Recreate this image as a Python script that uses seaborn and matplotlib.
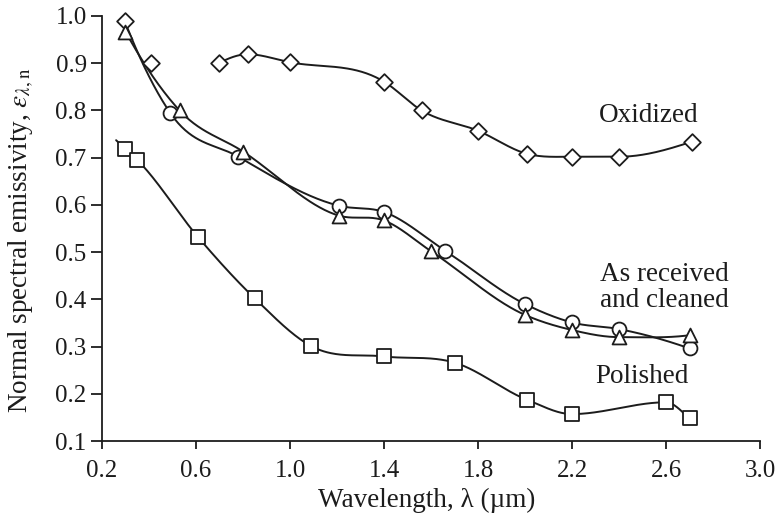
import numpy as np
import pandas as pd
import matplotlib
matplotlib.use("Agg")
import matplotlib.pyplot as plt
import seaborn as sns

# Normal spectral emissivity of a metal surface under three conditions
oxidized_x = [0.70, 0.82, 1.00, 1.40, 1.56, 1.80, 2.01, 2.20, 2.40, 2.71]
oxidized_y = [0.901, 0.919, 0.902, 0.861, 0.800, 0.757, 0.708, 0.702, 0.702, 0.734]
oxidized_extra_x = [0.30, 0.41]
oxidized_extra_y = [0.990, 0.900]

received_x = [0.30, 0.49, 0.78, 1.21, 1.40, 1.66, 2.00, 2.20, 2.40, 2.70]
received_y = [0.985, 0.795, 0.702, 0.598, 0.585, 0.503, 0.390, 0.351, 0.337, 0.296]

cleaned_x = [0.30, 0.53, 0.80, 1.21, 1.40, 1.60, 2.00, 2.20, 2.40, 2.70]
cleaned_y = [0.967, 0.800, 0.713, 0.577, 0.567, 0.502, 0.367, 0.335, 0.320, 0.324]

polished_x = [0.30, 0.35, 0.61, 0.85, 1.09, 1.40, 1.70, 2.01, 2.20, 2.60, 2.70]
polished_y = [0.718, 0.695, 0.531, 0.402, 0.301, 0.279, 0.266, 0.187, 0.157, 0.182, 0.148]
# fitted curve for the polished sample begins slightly before the first reading
polished_start = (0.26, 0.737)

x_ticks = [0.2, 0.6, 1.0, 1.4, 1.8, 2.2, 2.6, 3.0]
y_ticks = [0.1, 0.2, 0.3, 0.4, 0.5, 0.6, 0.7, 0.8, 0.9, 1.0]


def smooth(xs, ys, n=60):
    """Piecewise cubic Hermite curve with three-point (parabolic) slopes,
    flattened at local extrema to avoid overshoot."""
    x = np.asarray(xs, float)
    y = np.asarray(ys, float)
    h = np.diff(x)
    d = np.diff(y) / h
    m = np.empty_like(y)
    m[1:-1] = (h[:-1] * d[1:] + h[1:] * d[:-1]) / (h[:-1] + h[1:])
    m[1:-1][d[:-1] * d[1:] <= 0] = 0.0
    # parabolic end conditions
    c0 = (d[1] - d[0]) / (x[2] - x[0])
    m[0] = d[0] - c0 * h[0]
    c1 = (d[-1] - d[-2]) / (x[-1] - x[-3])
    m[-1] = d[-1] + c1 * h[-1]
    sx, sy = [], []
    for i in range(len(x) - 1):
        t = np.linspace(0, 1, n)
        if i > 0:
            t = t[1:]
        h00 = 2 * t ** 3 - 3 * t ** 2 + 1
        h10 = t ** 3 - 2 * t ** 2 + t
        h01 = -2 * t ** 3 + 3 * t ** 2
        h11 = t ** 3 - t ** 2
        sx.append(x[i] + t * h[i])
        sy.append(h00 * y[i] + h10 * h[i] * m[i] + h01 * y[i + 1] + h11 * h[i] * m[i + 1])
    return np.concatenate(sx), np.concatenate(sy)


sns.set_theme(style="ticks")
plt.rcParams["font.family"] = ["Liberation Serif", "DejaVu Serif"]
plt.rcParams["mathtext.fontset"] = "stix"

ink = "#1c1c1c"
fig = plt.figure(figsize=(7.77, 5.23), dpi=100)
ax = fig.add_axes([102 / 777, 1 - 441 / 523, 658 / 777, 425 / 523])

curves = [
    (oxidized_x, oxidized_y),
    (received_x, received_y),
    (cleaned_x, cleaned_y),
    ([polished_start[0]] + polished_x, [polished_start[1]] + polished_y),
]
for cx, cy in curves:
    sx, sy = smooth(cx, cy)
    sns.lineplot(x=sx, y=sy, sort=False, estimator=None, color=ink,
                 linewidth=1.4, ax=ax, zorder=2)

marker_sets = [
    (oxidized_x + oxidized_extra_x, oxidized_y + oxidized_extra_y, "D", 8.5),
    (received_x[1:], received_y[1:], "o", 10.0),
    (cleaned_x, cleaned_y, "^", 10.0),
    (polished_x, polished_y, "s", 9.5),
]
for mx, my, mk, ms in marker_sets:
    df = pd.DataFrame({"x": mx, "y": my})
    sns.scatterplot(data=df, x="x", y="y", marker=mk, s=ms ** 2,
                    facecolor="white", edgecolor=ink, linewidth=1.3,
                    ax=ax, zorder=3, clip_on=False)

ax.set_xlim(0.2, 3.0)
ax.set_ylim(0.1, 1.0)
ax.set_xticks(x_ticks)
ax.set_yticks(y_ticks)
ax.set_xticklabels([f"{v:.1f}" for v in x_ticks])
ax.set_yticklabels([f"{v:.1f}" for v in y_ticks])

tick_fs = 18
label_fs = 19.5
ax.tick_params(axis="both", colors=ink, labelsize=tick_fs, width=1.3, direction="out")
ax.tick_params(axis="y", length=8, pad=3)
ax.tick_params(axis="x", length=6, pad=8)
for side in ("left", "bottom"):
    ax.spines[side].set_color(ink)
    ax.spines[side].set_linewidth(1.3)
sns.despine(ax=ax)

ax.set_xlabel("Wavelength, λ (µm)", fontsize=label_fs, color=ink)
ax.xaxis.set_label_coords(0.493, -0.11)
ax.set_ylabel(r"Normal spectral emissivity, $\varepsilon_{\lambda,\mathrm{n}}$",
              fontsize=label_fs, color=ink)
ax.yaxis.set_label_coords(-0.1, 0.473)

ax.text(2.527, 0.79, "Oxidized", fontsize=label_fs, color=ink, ha="center", va="center")
ax.text(2.594, 0.426, "As received\nand cleaned", fontsize=label_fs, color=ink,
        ha="center", va="center", multialignment="center", linespacing=1.05)
ax.text(2.497, 0.236, "Polished", fontsize=label_fs, color=ink, ha="center", va="center")

fig.savefig("out.png", dpi=100)
